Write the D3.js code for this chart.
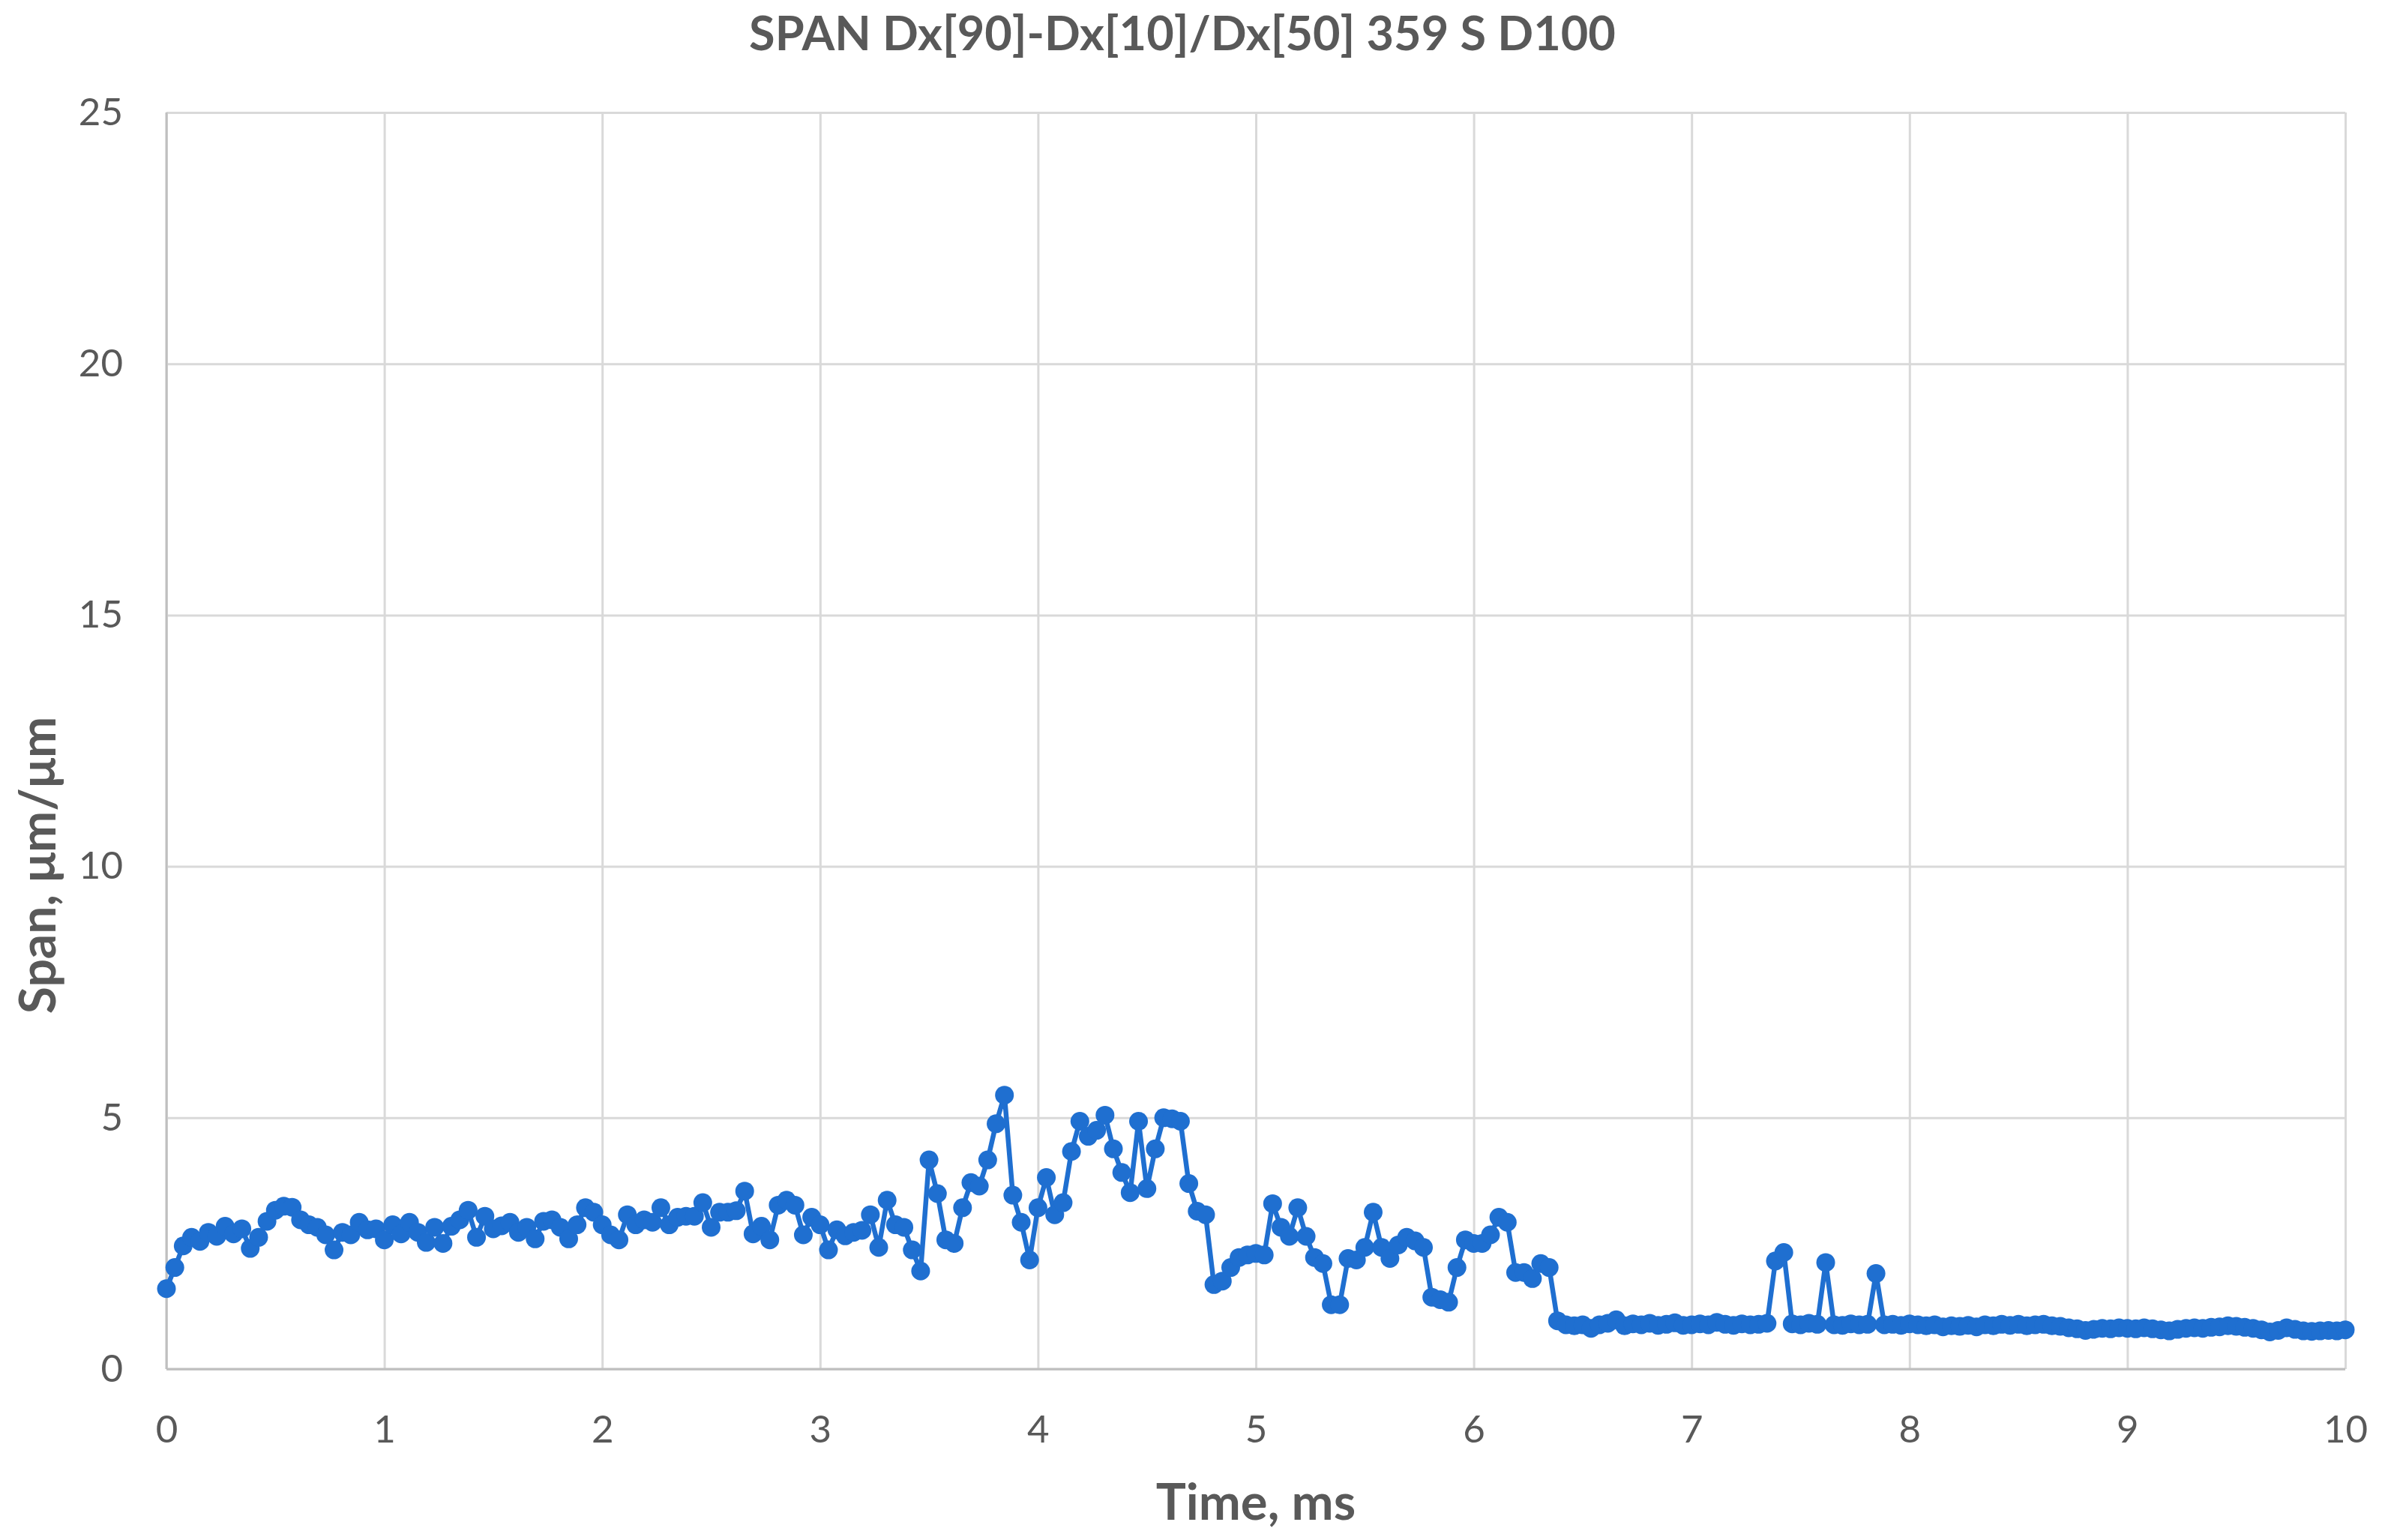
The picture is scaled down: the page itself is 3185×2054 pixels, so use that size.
<!DOCTYPE html>
<html><head><meta charset="utf-8">
<script src="https://cdn.jsdelivr.net/npm/d3@7"></script>
<style>body{margin:0;background:#fff}svg{display:block}</style>
</head><body><svg id="c" width="3185" height="2054"></svg>
<script>
const chartTitle = "SPAN Dx[90]-Dx[10]/Dx[50] 359 S D100";
const xAxisTitle = "Time, ms";
const yAxisTitle = "Span, \u03bcm/\u03bcm";
const sampleInterval = 10 / 260; // ms between samples
const xTickValues = [0,1,2,3,4,5,6,7,8,9,10];
const yTickValues = [0,5,10,15,20,25];
const span = [
 1.60,2.02,2.45,2.62,2.54,2.72,2.64,2.84,2.69,2.79,
 2.40,2.62,2.94,3.16,3.24,3.22,2.97,2.87,2.82,2.67,
 2.37,2.72,2.67,2.92,2.77,2.79,2.57,
 2.87,2.69,2.92,2.72,2.52,2.82,2.50,2.84,2.97,3.16,
 2.62,3.04,2.79,2.85,2.92,2.72,2.82,2.59,2.94,2.97,
 2.82,2.59,2.87,3.21,3.12,2.87,2.67,
 2.57,3.07,2.87,2.97,2.92,3.21,2.87,3.02,3.04,3.04,
 3.31,2.82,3.12,3.12,3.15,3.54,2.69,2.84,2.57,3.26,
 3.36,3.26,2.67,3.02,2.87,2.37,2.77,
 2.65,2.72,2.76,3.07,2.42,3.36,2.87,2.82,2.37,1.95,
 4.16,3.49,2.57,2.50,3.21,3.71,3.64,4.16,4.88,5.45,
 3.46,2.92,2.17,3.21,3.81,3.07,3.31,
 4.33,4.93,4.63,4.75,5.05,4.38,3.91,3.51,4.93,3.59,
 4.38,5.00,4.98,4.93,3.69,3.14,3.07,1.68,1.75,2.02,
 2.22,2.27,2.30,2.27,3.29,2.82,2.64,
 3.21,2.64,2.22,2.10,1.28,1.28,2.20,2.17,2.42,3.12,
 2.42,2.20,2.47,2.62,2.55,2.42,1.43,1.38,1.33,2.02,
 2.57,2.50,2.50,2.67,3.02,2.92,
 1.92,1.92,1.80,2.10,2.02,0.96,
 0.88,0.86,0.88,0.81,0.88,0.91,0.98,0.86,0.90,0.88,
 0.91,0.87,0.89,0.92,0.87,0.88,0.90,0.88,0.93,0.89,
 0.87,0.90,0.88,0.89,0.91,2.15,2.32,0.90,0.88,0.91,
 0.89,2.12,0.88,0.87,0.90,0.88,0.89,1.90,0.88,0.89,
 0.87,0.90,0.88,0.86,0.88,0.84,0.86,0.85,0.87,0.84,
 0.88,0.86,0.89,0.87,0.89,0.86,0.88,0.89,0.86,0.85,
 0.82,0.80,0.77,0.79,0.81,0.80,0.82,0.81,0.80,0.82,
 0.80,0.78,0.76,0.79,0.81,0.82,0.81,0.83,0.84,0.86,
 0.85,0.83,0.81,0.78,0.74,0.77,0.82,0.79,0.76,0.75,
 0.76,0.77,0.76,0.78
];
const data = span.map((v, i) => ({t: i * sampleInterval, v}));

const W = 3185, H = 2054;
const m = {left: 222, right: 3185 - 3128, top: 150, bottom: H - 1826};
const iw = W - m.left - m.right, ih = H - m.top - m.bottom;
const svg = d3.select("#c");
svg.append("rect").attr("width", W).attr("height", H).attr("fill", "#fff");
const g = svg.append("g").attr("transform", `translate(${m.left},${m.top})`);
const x = d3.scaleLinear().domain([0, 10]).range([0, iw]);
const y = d3.scaleLinear().domain([0, 25]).range([ih, 0]);
const FONT = "Lato, 'Open Sans', sans-serif";
const TXT = "#595959";

// gridlines
g.append("g").call(d3.axisLeft(y).tickValues(yTickValues).tickSize(-iw).tickFormat(""))
  .call(s => s.select(".domain").remove())
  .call(s => s.selectAll("line").attr("stroke", "#d9d9d9").attr("stroke-width", 3));
g.append("g").call(d3.axisBottom(x).tickValues(xTickValues).tickSize(ih).tickFormat(""))
  .call(s => s.select(".domain").remove())
  .call(s => s.selectAll("line").attr("stroke", "#d9d9d9").attr("stroke-width", 3));

// axis lines
g.append("line").attr("x1", 0).attr("x2", iw).attr("y1", ih).attr("y2", ih)
  .attr("stroke", "#bfbfbf").attr("stroke-width", 3);
g.append("line").attr("x1", 0).attr("x2", 0).attr("y1", 0).attr("y2", ih)
  .attr("stroke", "#bfbfbf").attr("stroke-width", 3);

// tick labels
g.append("g").attr("transform", `translate(0,${ih})`)
  .call(d3.axisBottom(x).tickValues(xTickValues).tickSize(0).tickPadding(62).tickFormat(d3.format("d")))
  .call(s => s.select(".domain").remove())
  .call(s => s.selectAll("text").attr("font-family", FONT).attr("font-size", 51).attr("fill", TXT));
g.append("g")
  .call(d3.axisLeft(y).tickValues(yTickValues).tickSize(0).tickPadding(58).tickFormat(d3.format("d")))
  .call(s => s.select(".domain").remove())
  .call(s => s.selectAll("text").attr("font-family", FONT).attr("font-size", 51).attr("fill", TXT));

// series
const line = d3.line().x(d => x(d.t)).y(d => y(d.v));
const COL = "#1f6fd0";
g.append("path").datum(data).attr("d", line).attr("fill", "none")
  .attr("stroke", COL).attr("stroke-width", 6.5).attr("stroke-linejoin", "round");
g.append("g").selectAll("circle").data(data).join("circle")
  .attr("cx", d => x(d.t)).attr("cy", d => y(d.v)).attr("r", 12.5).attr("fill", COL);

// titles
svg.append("text").attr("x", 1577).attr("y", 67).attr("text-anchor", "middle")
  .attr("font-family", FONT).attr("font-weight", "bold").attr("font-size", 63).attr("fill", TXT)
  .text(chartTitle);
svg.append("text").attr("x", m.left + iw / 2).attr("y", 2027).attr("text-anchor", "middle")
  .attr("font-family", FONT).attr("font-weight", "bold").attr("font-size", 67).attr("fill", TXT)
  .text(xAxisTitle);
svg.append("text").attr("transform", "translate(74,1154) rotate(-90)").attr("text-anchor", "middle")
  .attr("font-family", FONT).attr("font-weight", "bold").attr("font-size", 66).attr("fill", TXT)
  .text(yAxisTitle);
</script></body></html>
